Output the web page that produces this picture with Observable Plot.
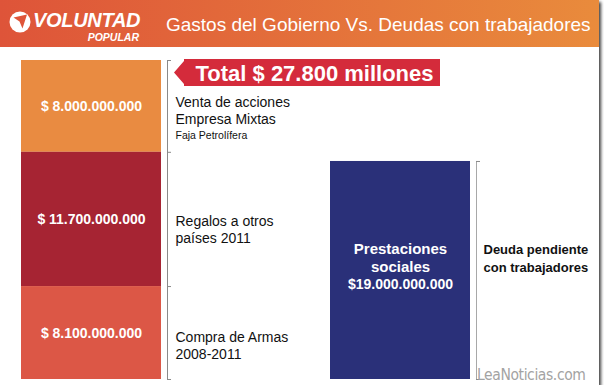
<!DOCTYPE html>
<html><head><meta charset="utf-8">
<script src="https://cdn.jsdelivr.net/npm/d3@7"></script>
<script src="https://cdn.jsdelivr.net/npm/@observablehq/plot@0.6"></script>
<style>
html,body{margin:0;padding:0;background:#fff;}
body{font-family:"Liberation Sans",Arial,Helvetica,sans-serif;}
#card{position:relative;width:599px;height:385px;background:#fff;box-shadow:2px 2px 3px rgba(0,0,0,.75);overflow:hidden;}
#header{display:block;}
#chart svg{display:block;}
#wm{position:absolute;left:477px;top:366px;font-size:15.5px;color:#a3a3a3;letter-spacing:-0.4px;font-family:"DejaVu Sans Condensed","Liberation Sans",Arial,sans-serif;font-weight:300;}
</style></head>
<body>
<div id="card">
<svg id="header" width="599" height="47" viewBox="0 0 599 47">
  <defs><linearGradient id="hg" x1="0" x2="1" y1="0" y2="0">
    <stop offset="0" stop-color="#de5439"/><stop offset="1" stop-color="#e98b3c"/></linearGradient></defs>
  <rect x="0" y="0" width="599" height="47" fill="url(#hg)"/>
  <circle cx="20" cy="22" r="10.5" fill="#fff"/>
  <path d="M13.5,17.5 L27,14.5 L22.5,28.5 L19.5,21.5 Z" fill="#df5539"/>
  <text x="33" y="27" fill="#fff" font-size="20" font-weight="900" font-style="italic" letter-spacing="-0.3">VOLUNTAD</text>
  <text x="139" y="41" fill="#fff" font-size="10.5" font-weight="900" font-style="italic" text-anchor="end">POPULAR</text>
  <text x="166" y="31" fill="#fff" font-size="19">Gastos del Gobierno Vs. Deudas con trabajadores</text>
</svg>
<div id="chart"></div>
<div id="wm">LeaNoticias.com</div>
</div>
<script>
// Data (values in miles de millones de $)
const categories = ["Gastos del Gobierno", "Deudas con trabajadores"];
const gastoItems = ["Venta de acciones\nEmpresa Mixtas", "Regalos a otros\npaíses 2011", "Compra de Armas\n2008-2011"];
const gastoNotes = ["Faja Petrolífera", "", ""];
const gastoValues = [8.0, 11.7, 8.1];
const gastoLabels = ["$ 8.000.000.000", "$ 11.700.000.000", "$ 8.100.000.000"];
const deudaItems = ["Prestaciones\nsociales"];
const deudaValues = [19.0];
const deudaLabels = ["$19.000.000.000"];
const deudaDescription = "Deuda pendiente\ncon trabajadores";
const totalLabel = "Total $ 27.800 millones";

// Styles
const segColors = ["#e98b41", "#a62433", "#dc5746", "#2a3079"];
const sideDy = [4, 10, 12];

// Build stacked table (first item on top)
const segs = [];
const gastoTotal = d3.sum(gastoValues);
let cur = gastoTotal;
gastoItems.forEach((name, i) => {
  segs.push({cat: categories[0], name, note: gastoNotes[i], label: gastoLabels[i], y2: cur, y1: cur - gastoValues[i]});
  cur -= gastoValues[i];
});
segs[segs.length - 1].y1 = 0;
let dCur = 0;
deudaItems.forEach((name, i) => {
  segs.push({cat: categories[1], name, label: deudaLabels[i], y1: dCur, y2: dCur + deudaValues[i]});
  dCur += deudaValues[i];
});
const deudaTotal = dCur;
const gSegs = segs.filter(d => d.cat === categories[0]);
const dSegs = segs.filter(d => d.cat === categories[1]);
const mid = d => (d.y1 + d.y2) / 2;

const brackets = [{cat: categories[0], total: gastoTotal, stroke: "#8a8a8a"}, {cat: categories[1], total: deudaTotal, stroke: "#a8a8a8"}];
const ticks = [
  {cat: categories[0], v: 0}, ...gSegs.map(d => ({cat: categories[0], v: d.y2})),
  {cat: categories[1], v: 0}, ...dSegs.map(d => ({cat: categories[1], v: d.y2}))
];

const font = "Liberation Sans, Arial, Helvetica, sans-serif";
const sideMarks = gSegs.map((d, i) => Plot.text([d], {
  x: "cat", y: mid, text: "name", textAnchor: "start", dx: 84, dy: sideDy[i],
  fontSize: 14, lineHeight: 1.22, fill: "#111"
}));

const chart = Plot.plot({
  width: 599, height: 338,
  marginTop: 13, marginBottom: 6, marginLeft: 20, marginRight: 129,
  x: {type: "band", domain: categories, paddingInner: 0.548, paddingOuter: 0, axis: null},
  y: {domain: [0, gastoTotal], axis: null},
  color: {domain: segs.map(d => d.name), range: segColors},
  style: {fontFamily: font, background: "transparent", overflow: "visible"},
  marks: [
    Plot.barY(segs, {x: "cat", y1: "y1", y2: "y2", fill: "name"}),
    Plot.ruleX(brackets, {x: "cat", y1: 0, y2: "total", dx: 76, stroke: d => d.stroke, strokeWidth: 1}),
    Plot.tickY(ticks, {x: "cat", y: "v", dx: 146, insetRight: 136, stroke: "#8a8a8a", strokeWidth: 1}),
    Plot.text(gSegs, {x: "cat", y: mid, text: "label", fill: "white", fontSize: 14, fontWeight: "bold"}),
    ...sideMarks,
    Plot.text([gSegs[0]], {x: "cat", y: mid, text: "note", textAnchor: "start", dx: 84, dy: 29, fontSize: 10.5, fill: "#111"}),
    Plot.text(dSegs, {x: "cat", y: mid, text: "name", fill: "white", fontSize: 15, fontWeight: "bold", lineHeight: 1.2, dy: -13}),
    Plot.text(dSegs, {x: "cat", y: mid, text: "label", fill: "white", fontSize: 14, fontWeight: "bold", dy: 14, letterSpacing: -0.6}),
    Plot.text([dSegs[0]], {x: "cat", y: mid, text: () => deudaDescription, textAnchor: "start", dx: 83, dy: -13, fontSize: 13, fontWeight: "bold", lineHeight: 1.35, fill: "#111"}),
    Plot.text([brackets[0]], {x: "cat", y: "total", text: () => totalLabel, textAnchor: "start", dx: 104, dy: 13, fontSize: 22, fontWeight: "bold", fill: "white"})
  ]
});
document.getElementById("chart").appendChild(chart);

// Banner behind the total label, anchored through the plot's scales
const xs = chart.scale("x"), ys = chart.scale("y");
const bx = xs.apply(categories[0]) + xs.bandwidth;
const by = ys.apply(gastoTotal);
const tip = bx + 13, left = bx + 23, right = bx + 279, t0 = by - 1, t1 = by + 26;
const totalText = Array.from(chart.querySelectorAll("text")).find(t => t.textContent === totalLabel);
const totalGroup = totalText.closest("g");
const banner = document.createElementNS("http://www.w3.org/2000/svg", "path");
banner.setAttribute("d", `M${tip},${(t0 + t1) / 2} L${left},${t0 + 2} L${left},${t0} L${right},${t0} L${right},${t1} L${left},${t1} L${left},${t1 - 2} Z`);
banner.setAttribute("fill", "#d42b3b");
totalGroup.parentNode.insertBefore(banner, totalGroup);
</script>
</body></html>
